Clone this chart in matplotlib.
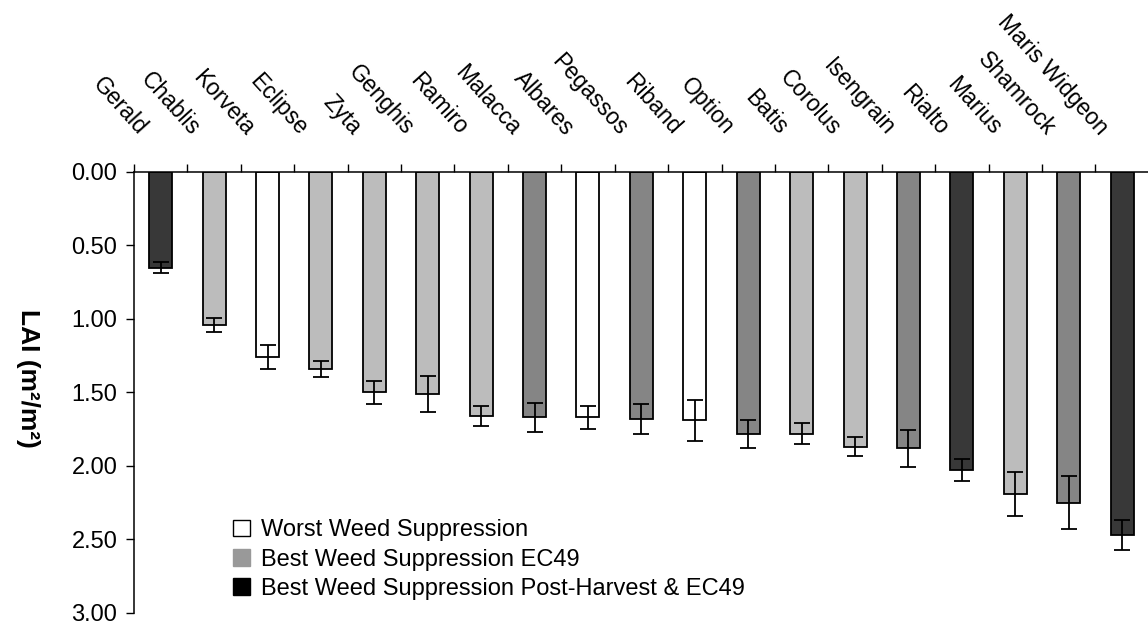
import matplotlib
matplotlib.use("Agg")
from matplotlib import pyplot as plt
from matplotlib.patches import Patch

plt.rcParams['font.family'] = ['Liberation Sans', 'DejaVu Sans']

varieties = ["Gerald", "Chablis", "Korveta", "Eclipse", "Zyta", "Genghis", "Ramiro",
             "Malacca", "Albares", "Pegassos", "Riband", "Option", "Batis", "Corolus",
             "Isengrain", "Rialto", "Marius", "Shamrock", "Maris Widgeon"]
lai = [0.65, 1.04, 1.26, 1.34, 1.50, 1.51, 1.66, 1.67, 1.67, 1.68, 1.69, 1.78, 1.78,
       1.87, 1.88, 2.03, 2.19, 2.25, 2.47]
lai_err = [0.035, 0.05, 0.08, 0.055, 0.08, 0.12, 0.07, 0.10, 0.08, 0.10, 0.14, 0.095,
           0.07, 0.065, 0.125, 0.075, 0.15, 0.18, 0.10]
group = ["dark", "light", "white", "light", "light", "light", "light", "mid", "white",
         "mid", "white", "mid", "light", "light", "mid", "dark", "light", "mid", "dark"]
legend_labels = ["Worst Weed Suppression", "Best Weed Suppression EC49",
                 "Best Weed Suppression Post-Harvest & EC49"]
yticks = [0.0, 0.5, 1.0, 1.5, 2.0, 2.5, 3.0]

fills = {"white": "#ffffff", "light": "#bcbcbc", "mid": "#858585", "dark": "#383838"}

fig = plt.figure(figsize=(11.48, 6.33), dpi=100)
ax = fig.add_axes([0.1167, 0.0316, 0.884, 0.6967])

xpos = [i + 0.5 for i in range(len(varieties))]
ax.bar(xpos, lai, width=0.43, color=[fills[g] for g in group],
       edgecolor="black", linewidth=1.3, zorder=2)
ax.errorbar(xpos, lai, yerr=lai_err, fmt="none", ecolor="black",
            elinewidth=1.3, capsize=6, capthick=1.3, zorder=3)

ax.set_xlim(0, 19)
ax.set_ylim(3.0, 0.0)
ax.set_yticks(yticks)
ax.set_yticklabels([f"{t:.2f}" for t in yticks], fontsize=17)
ax.set_xticks(range(20))
ax.set_xticklabels([])
ax.xaxis.set_ticks_position("top")
ax.tick_params(axis="x", direction="out", length=6, width=1)
ax.tick_params(axis="y", direction="out", length=6, width=1, pad=6)
for s in ["right", "bottom"]:
    ax.spines[s].set_visible(False)
for s in ["top", "left"]:
    ax.spines[s].set_linewidth(1.1)

for x, name in zip(xpos, varieties):
    ax.text(x - 0.5, -0.22, name, rotation=-48, rotation_mode="anchor",
            ha="right", va="bottom", fontsize=16.5, transform=ax.transData, clip_on=False)

fig.text(28 / 1148, 1 - 378 / 633, "LAI (m²/m²)", rotation=270, ha="center",
         va="center", fontsize=19, fontweight="bold")

handles = [Patch(facecolor="white", edgecolor="black", linewidth=1),
           Patch(facecolor="#999999", edgecolor="#999999"),
           Patch(facecolor="black", edgecolor="black")]
ax.legend(handles, legend_labels, loc="upper left", bbox_to_anchor=(224 / 1148, 1 - 510 / 633),
          bbox_transform=fig.transFigure, frameon=False, fontsize=17,
          handlelength=0.7, handleheight=0.7, handletextpad=0.45, labelspacing=0.3,
          borderaxespad=0)

fig.savefig("out.png", dpi=100)
